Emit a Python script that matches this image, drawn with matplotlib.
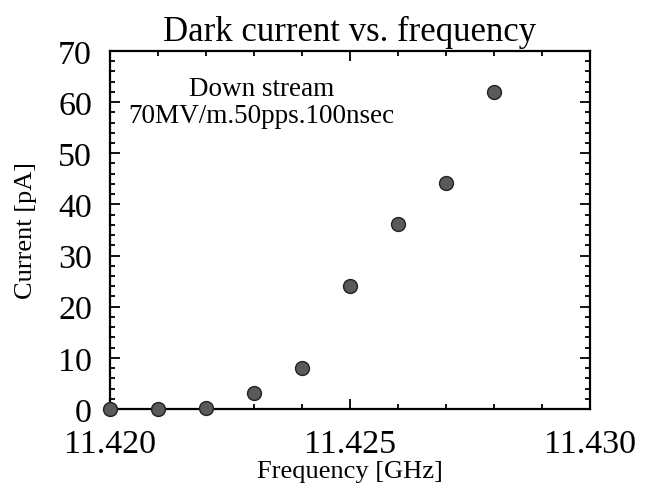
import matplotlib
matplotlib.use("Agg")
import matplotlib.pyplot as plt
from matplotlib.ticker import MultipleLocator, FormatStrFormatter

# Data
frequency_ghz = [11.420, 11.421, 11.422, 11.423, 11.424, 11.425, 11.426, 11.427, 11.428]
current_pa = [0.0, 0.0, 0.2, 3.2, 8.1, 24.1, 36.1, 44.1, 61.9]
x_ticks = [11.420, 11.425, 11.430]
y_ticks = [0, 10, 20, 30, 40, 50, 60, 70]

title = "Dark current vs. frequency"
x_label = "Frequency [GHz]"
y_label = "Current [pA]"
note = "Down stream\n70MV/m.50pps.100nsec"

plt.rcParams['font.family'] = ['Liberation Serif', 'DejaVu Serif']

fig = plt.figure(figsize=(6.45, 4.89), dpi=100)
ax = fig.add_axes([0.1705, 0.1616, 0.7442, 0.7321])

ax.plot(frequency_ghz, current_pa, linestyle='none', marker='o', markersize=10,
        markerfacecolor='#5a5a5a', markeredgecolor='#222222', markeredgewidth=1.0,
        clip_on=False, zorder=5)

ax.set_xlim(11.420, 11.430)
ax.set_ylim(0, 70)
ax.set_xticks(x_ticks)
ax.set_yticks(y_ticks)
ax.xaxis.set_major_formatter(FormatStrFormatter('%.3f'))
ax.xaxis.set_minor_locator(MultipleLocator(0.001))
ax.yaxis.set_minor_locator(MultipleLocator(2))

ax.tick_params(which='both', direction='in', top=True, right=True, width=1.3, colors='black')
ax.tick_params(which='major', length=7)
ax.tick_params(which='minor', length=3.5)
ax.tick_params(axis='x', which='major', labelsize=24.5, pad=14)
ax.tick_params(axis='y', which='major', labelsize=24.5, pad=13)

for s in ax.spines.values():
    s.set_linewidth(1.6)

ax.set_title(title, fontsize=25, pad=8)
ax.set_xlabel(x_label, fontsize=19, labelpad=1)
ax.set_ylabel(y_label, fontsize=19, labelpad=15)

ax.text(0.315, 0.93, note, transform=ax.transAxes, ha='center', va='top',
        fontsize=19.5, linespacing=1.1)

fig.savefig("out.png", dpi=100)
